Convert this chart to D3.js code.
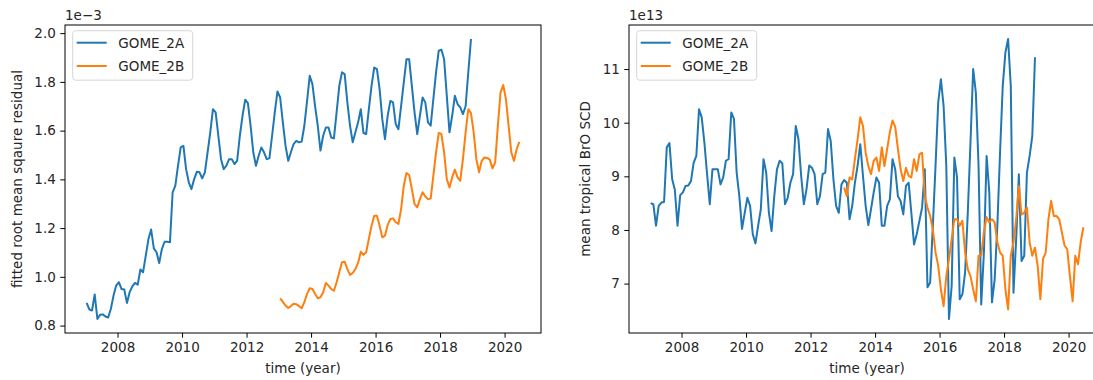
<!DOCTYPE html>
<html>
<head>
<meta charset="utf-8">
<script src="https://cdn.jsdelivr.net/npm/d3@7/dist/d3.min.js"></script>
<style>
  body { margin: 0; background: #fff; overflow: hidden; }
  text { font-family: "DejaVu Sans", sans-serif; }
</style>
</head>
<body>
<div class="svg"></div>
<script>
// monthly series, first value = Jan of the start year
var seriesNames = ['GOME_2A', 'GOME_2B'];
var seriesColors = ['#1f77b4', '#ff7f0e'];
var startA = 2007;
var startB = 2013;

// fitted root mean square residual (x 1e-3)
var rmsA = [
  0.893, 0.866, 0.862, 0.928, 0.827, 0.844, 0.846, 0.837, 0.833, 0.868, 0.923, 0.964,
  0.978, 0.950, 0.948, 0.893, 0.937, 0.961, 0.975, 0.968, 1.030, 1.019, 1.087, 1.155,
  1.194, 1.117, 1.101, 1.057, 1.114, 1.144, 1.144, 1.142, 1.347, 1.374, 1.456, 1.531,
  1.538, 1.442, 1.388, 1.360, 1.401, 1.431, 1.429, 1.404, 1.429, 1.511, 1.593, 1.688,
  1.675, 1.579, 1.483, 1.442, 1.456, 1.483, 1.483, 1.463, 1.476, 1.579, 1.661, 1.727,
  1.713, 1.620, 1.511, 1.456, 1.497, 1.531, 1.511, 1.483, 1.486, 1.579, 1.675, 1.761,
  1.736, 1.634, 1.538, 1.476, 1.511, 1.545, 1.558, 1.552, 1.555, 1.620, 1.720, 1.825,
  1.791, 1.700, 1.620, 1.518, 1.579, 1.613, 1.613, 1.572, 1.568, 1.675, 1.784, 1.839,
  1.832, 1.716, 1.620, 1.552, 1.593, 1.634, 1.688, 1.590, 1.586, 1.688, 1.784, 1.859,
  1.852, 1.770, 1.647, 1.565, 1.661, 1.722, 1.716, 1.627, 1.606, 1.702, 1.798, 1.893,
  1.893, 1.784, 1.675, 1.586, 1.661, 1.736, 1.716, 1.634, 1.620, 1.729, 1.839, 1.928,
  1.932, 1.893, 1.743, 1.593, 1.661, 1.743, 1.709, 1.695, 1.668, 1.700, 1.840, 1.976
];
var rmsB = [
  0.912, 0.897, 0.882, 0.872, 0.880, 0.890, 0.888, 0.880, 0.871, 0.896, 0.930, 0.953,
  0.950, 0.930, 0.912, 0.916, 0.937, 0.975, 0.964, 0.950, 0.943, 0.978, 1.019, 1.060,
  1.062, 1.032, 1.008, 1.016, 1.032, 1.057, 1.103, 1.090, 1.101, 1.155, 1.210, 1.251,
  1.251, 1.210, 1.162, 1.169, 1.213, 1.237, 1.240, 1.224, 1.217, 1.278, 1.374, 1.426,
  1.418, 1.360, 1.299, 1.285, 1.319, 1.347, 1.330, 1.319, 1.321, 1.415, 1.511, 1.590,
  1.586, 1.511, 1.401, 1.367, 1.408, 1.440, 1.408, 1.394, 1.483, 1.593, 1.688, 1.672,
  1.593, 1.483, 1.429, 1.476, 1.490, 1.488, 1.481, 1.445, 1.470, 1.620, 1.757, 1.787,
  1.729, 1.620, 1.511, 1.476, 1.524, 1.554
];

// mean tropical BrO SCD (x 1e13)
var scdA = [
  8.50, 8.48, 8.08, 8.45, 8.51, 8.52, 9.54, 9.62, 8.95, 8.75, 8.08, 8.65,
  8.70, 8.82, 8.83, 8.91, 9.25, 9.38, 10.25, 10.10, 9.63, 9.04, 8.48, 9.13,
  9.13, 9.13, 8.85, 8.98, 9.29, 9.32, 10.19, 10.07, 9.07, 8.63, 8.02, 8.32,
  8.60, 8.45, 7.92, 7.75, 8.08, 8.39, 9.32, 9.07, 8.32, 7.98, 8.63, 9.13,
  9.29, 9.24, 8.48, 8.60, 8.88, 9.04, 9.94, 9.69, 9.01, 8.48, 8.76, 9.20,
  9.16, 9.04, 8.48, 8.63, 9.04, 9.07, 9.88, 9.66, 8.95, 8.45, 8.32, 8.85,
  8.93, 8.88, 8.20, 8.45, 8.88, 9.20, 9.60, 9.01, 8.45, 8.09, 8.39, 8.70,
  8.98, 8.88, 8.08, 8.08, 8.45, 8.57, 9.32, 9.13, 8.63, 8.54, 8.29, 8.82,
  8.88, 8.32, 7.73, 7.92, 8.17, 8.42, 9.13, 6.93, 7.02, 8.08, 9.20, 10.38,
  10.81, 10.31, 9.20, 6.34, 6.96, 9.35, 8.98, 6.71, 6.80, 7.21, 8.32, 9.63,
  11.00, 10.56, 9.20, 6.61, 7.58, 9.38, 8.70, 6.65, 7.08, 8.08, 9.44, 10.68,
  11.31, 11.56, 10.68, 6.83, 7.83, 9.04, 7.42, 7.52, 9.07, 9.38, 9.75, 11.22
];
var scdB = [
  8.79, 8.63, 8.98, 8.94, 9.32, 9.69, 10.10, 9.94, 9.44, 9.19, 9.04, 9.29,
  9.35, 9.10, 9.54, 9.19, 9.51, 9.82, 10.04, 9.92, 9.51, 9.13, 8.91, 9.16,
  9.01, 8.98, 9.32, 9.10, 9.41, 9.44, 8.63, 8.42, 8.26, 8.01, 7.58, 7.33,
  6.89, 6.58, 7.14, 7.46, 7.83, 8.20, 8.20, 8.08, 8.17, 7.58, 7.27, 7.14,
  6.89, 6.67, 7.52, 7.52, 7.96, 8.24, 8.14, 8.20, 8.14, 7.77, 7.58, 7.52,
  6.89, 6.52, 7.52, 7.77, 8.20, 8.82, 8.29, 8.32, 8.42, 7.77, 7.52, 7.67,
  7.33, 6.71, 7.46, 7.58, 8.20, 8.54, 8.26, 8.26, 8.20, 7.96, 7.71, 7.64,
  7.14, 6.67, 7.52, 7.36, 7.77, 8.05
];

var xTicks = [2008, 2010, 2012, 2014, 2016, 2018, 2020];
var rmsTicks = [0.8, 1.0, 1.2, 1.4, 1.6, 1.8, 2.0];
var scdTicks = [7, 8, 9, 10, 11];

var W = 1093, H = 380;
var FS = 13.5;

var svg = d3.select('div.svg').append('svg')
  .attr('width', W)
  .attr('height', H);

function monthly(startYear, values) {
  return values.map(function (v, i) {
    return {t: startYear + (i + 0.5) / 12, v: v};
  });
}

// matplotlib style 5% margins
function padded(ext) {
  var m = (ext[1] - ext[0]) * 0.05;
  return [ext[0] - m, ext[1] + m];
}

function drawPanel(o) {
  var series = [monthly(startA, o.a), monthly(startB, o.b)];
  var all = series[0].concat(series[1]);

  var x = d3.scaleLinear()
    .domain(padded(d3.extent(all, function (d) { return d.t; })))
    .range([o.left, o.right]);
  var y = d3.scaleLinear()
    .domain(padded(d3.extent(all, function (d) { return d.v; })))
    .range([o.bottom, o.top]);

  var g = svg.append('g');

  var xAxis = g.append('g')
    .attr('transform', 'translate(0,' + o.bottom + ')')
    .call(d3.axisBottom(x).tickValues(xTicks).tickSize(4.7).tickPadding(4.5).tickFormat(d3.format('d')));
  var yAxis = g.append('g')
    .attr('transform', 'translate(' + o.left + ',0)')
    .call(d3.axisLeft(y).tickValues(o.yTicks).tickSize(4.7).tickPadding(4.5).tickFormat(o.yFormat));

  [xAxis, yAxis].forEach(function (ax) {
    ax.select('.domain').remove();
    ax.attr('font-size', FS).attr('font-family', '"DejaVu Sans", sans-serif');
    ax.selectAll('line').attr('stroke', '#000').attr('stroke-width', 1);
    ax.selectAll('text').attr('fill', '#262626');
  });

  var line = d3.line()
    .x(function (d) { return x(d.t); })
    .y(function (d) { return y(d.v); });

  g.selectAll('path.series')
    .data(series)
    .enter()
    .append('path')
    .attr('class', 'series')
    .attr('d', line)
    .attr('fill', 'none')
    .attr('stroke', function (d, i) { return seriesColors[i]; })
    .attr('stroke-width', 2)
    .attr('stroke-linejoin', 'round');

  // frame
  g.append('rect')
    .attr('x', o.left)
    .attr('y', o.top)
    .attr('width', o.right - o.left)
    .attr('height', o.bottom - o.top)
    .attr('fill', 'none')
    .attr('stroke', '#000')
    .attr('stroke-width', 1);

  // legend
  var lx = o.left + 7.7, ly = o.top + 5.7;
  var leg = g.append('g').attr('transform', 'translate(' + lx + ',' + ly + ')');
  leg.append('rect')
    .attr('width', 120)
    .attr('height', 49.5)
    .attr('rx', 3)
    .attr('fill', '#fff')
    .attr('fill-opacity', 0.8)
    .attr('stroke', '#d6d6d6')
    .attr('stroke-width', 1);
  var items = leg.selectAll('g.item')
    .data(seriesNames)
    .enter()
    .append('g')
    .attr('transform', function (d, i) { return 'translate(0,' + (12 + i * 23.3) + ')'; });
  items.append('line')
    .attr('x1', 4)
    .attr('x2', 34)
    .attr('stroke', function (d, i) { return seriesColors[i]; })
    .attr('stroke-width', 2);
  items.append('text')
    .attr('x', 45.6)
    .attr('dy', '0.36em')
    .attr('font-size', FS)
    .attr('fill', '#262626')
    .text(function (d) { return d; });

  // offset text, axis labels
  g.append('text')
    .attr('x', o.left)
    .attr('y', o.top - 5)
    .attr('font-size', FS)
    .attr('fill', '#262626')
    .text(o.offset);
  g.append('text')
    .attr('x', (o.left + o.right) / 2)
    .attr('y', 373)
    .attr('text-anchor', 'middle')
    .attr('font-size', FS)
    .attr('fill', '#262626')
    .text('time (year)');
  g.append('text')
    .attr('transform', 'translate(' + o.ylabelX + ',' + ((o.top + o.bottom) / 2) + ') rotate(-90)')
    .attr('text-anchor', 'middle')
    .attr('dy', '0.36em')
    .attr('font-size', FS)
    .attr('fill', '#262626')
    .text(o.ylabel);
}

drawPanel({
  a: rmsA, b: rmsB,
  left: 65, right: 541, top: 25, bottom: 333,
  yTicks: rmsTicks, yFormat: d3.format('.1f'),
  offset: '1e\u22123',
  ylabel: 'fitted root mean sqaure residual', ylabelX: 17
});

drawPanel({
  a: scdA, b: scdB,
  left: 629, right: 1105, top: 25, bottom: 333,
  yTicks: scdTicks, yFormat: d3.format('d'),
  offset: '1e13',
  ylabel: 'mean tropical BrO SCD', ylabelX: 585
});
</script>
</body>
</html>
